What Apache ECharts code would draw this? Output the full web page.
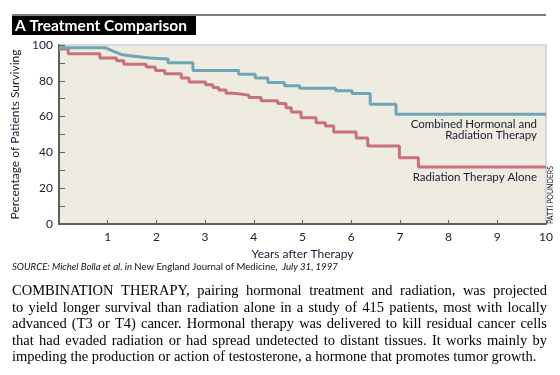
<!DOCTYPE html>
<html>
<head>
<meta charset="utf-8">
<script src="https://cdn.jsdelivr.net/npm/echarts@6/dist/echarts.min.js"></script>
<style>
html, body { margin: 0; padding: 0; background: #fff; }
#treatmentChart { width: 560px; height: 375px; }
</style>
</head>
<body>
<div id="treatmentChart"></div>
<script>
// survival curves (years after therapy, % surviving)
var comboTimes = [0, 0.96, 1.04, 1.12, 1.2, 1.28, 1.45, 1.65, 1.86, 2.24, 2.75, 3.69, 4.03, 4.29, 4.63, 4.94, 5.68, 6.02, 6.39, 6.92, 10]
var comboSurvival = [98.4, 97.4, 96.5, 95.6, 94.7, 94.0, 93.4, 92.8, 92.2, 90.1, 85.8, 83.6, 81.5, 79.1, 77.2, 75.9, 74.4, 72.9, 66.9, 61.3, 61.3]

var radTimes = [0, 0.19, 0.84, 1.18, 1.33, 1.79, 1.98, 2.17, 2.51, 2.67, 3.01, 3.16, 3.28, 3.43, 3.60, 3.90, 4.15, 4.49, 4.66, 4.77, 4.97, 5.28, 5.47, 5.64, 6.10, 6.34, 6.99, 7.38, 10]
var radSurvival = [97.8, 95.1, 92.7, 91.2, 89.3, 87.7, 85.8, 83.9, 81.5, 79.3, 77.8, 76.3, 74.8, 73.1, 72.0, 70.7, 68.8, 67.3, 65.0, 62.6, 59.4, 56.6, 54.8, 51.4, 48.0, 43.6, 37.0, 31.8, 31.8]

var seriesNames = ['Combined Hormonal and\nRadiation Therapy', 'Radiation Therapy Alone']

var title = 'A Treatment Comparison'
var xName = 'Years after Therapy'
var yName = 'Percentage of Patients Surviving'
var credit = 'PATTI POUNDERS'

var paraLines = [
  'COMBINATION THERAPY, pairing hormonal treatment and radiation, was projected',
  'to yield longer survival than radiation alone in a study of 415 patients, most with locally',
  'advanced (T3 or T4) cancer. Hormonal therapy was delivered to kill residual cancer cells',
  'that had evaded radiation or had spread undetected to distant tissues. It works mainly by',
  'impeding the production or action of testosterone, a hormone that promotes tumor growth.'
]

function pairs(xs, ys) {
  var out = []
  for (var i = 0; i < xs.length; i++) out.push([xs[i], ys[i]])
  return out
}

var BLUE = '#6fa5b6'
var RED = '#c9717b'
var INK = '#1a1a33'
var sans = 'Lato, "Open Sans", sans-serif'
var serifFont = '14.5px "Liberation Serif", "DejaVu Serif", serif'

// measure words so the caption can be justified like the printed page
var measureCtx = document.createElement('canvas').getContext('2d')
measureCtx.font = serifFont

function justifiedLine(line, x, y, width, last) {
  if (last) {
    return [{type: 'text', style: {text: line, x: x, y: y, textVerticalAlign: 'middle', font: serifFont, fill: '#000'}}]
  }
  var words = line.split(' ')
  var total = 0
  words.forEach(function (w) { total += measureCtx.measureText(w).width })
  var gap = (width - total) / (words.length - 1)
  var els = []
  var cx = x
  words.forEach(function (w) {
    els.push({type: 'text', style: {text: w, x: cx, y: y, textVerticalAlign: 'middle', font: serifFont, fill: '#000'}})
    cx += measureCtx.measureText(w).width + gap
  })
  return els
}

var chart = echarts.init(document.getElementById('treatmentChart'))

var graphics = [
  // rule + black title bar
  {type: 'rect', shape: {x: 12, y: 14, width: 534, height: 2}, style: {fill: '#7a7a7a'}},
  {type: 'rect', shape: {x: 12, y: 16, width: 184, height: 19}, style: {fill: '#000'}},
  {type: 'text', style: {text: title, x: 15, y: 26, textVerticalAlign: 'middle',
    font: 'bold 15.5px ' + sans, fill: '#fff'}},
  // curve labels
  {type: 'text', style: {text: seriesNames[0], x: 537, y: 130, textAlign: 'right', textVerticalAlign: 'middle',
    font: '11.5px ' + sans, fill: INK, lineHeight: 11}},
  {type: 'text', style: {text: seriesNames[1], x: 537, y: 177, textAlign: 'right', textVerticalAlign: 'middle',
    font: '11.5px ' + sans, fill: INK}},
  // artist credit
  {type: 'text', x: 551, y: 195, rotation: Math.PI / 2,
    style: {text: credit, x: 0, y: 0, textAlign: 'center', textVerticalAlign: 'middle',
      font: '7px ' + sans, fill: '#111'}},
  // source line
  {type: 'text', style: {
    text: '{i|SOURCE: Michel Bolla et al. in }{r|New England Journal of Medicine, }{i| July 31, 1997}',
    x: 12, y: 267, textVerticalAlign: 'middle',
    rich: {
      i: {font: 'italic 9.6px ' + sans, fill: '#111'},
      r: {font: '9.6px ' + sans, fill: '#111'}
    }}}
]
for (var k = 0; k < paraLines.length; k++) {
  graphics = graphics.concat(justifiedLine(paraLines[k], 12, 291.5 + k * 16.5, 535, k === paraLines.length - 1))
}

var option = {
  animation: false,
  backgroundColor: '#fff',
  grid: {
    left: 59, right: 14, top: 45, bottom: 151,
    show: true, backgroundColor: '#eeebe0', borderColor: '#d8d8d8', borderWidth: 2
  },
  xAxis: {
    type: 'value', min: 0, max: 10, interval: 1,
    name: xName, nameLocation: 'middle', nameGap: 24,
    nameTextStyle: {fontFamily: sans, fontSize: 12, color: INK},
    axisLine: {show: true, lineStyle: {color: '#5f5f5f', width: 2}},
    axisTick: {show: true, inside: true, length: 4, lineStyle: {color: '#5f5f5f'}},
    axisLabel: {fontFamily: sans, fontSize: 12, color: INK, margin: 7,
      formatter: function (v) { return v === 0 ? '' : v }},
    splitLine: {show: false}
  },
  yAxis: {
    type: 'value', min: 0, max: 100, interval: 10,
    name: yName, nameLocation: 'middle', nameGap: 38,
    nameTextStyle: {fontFamily: sans, fontSize: 12, color: INK},
    axisLine: {show: true, lineStyle: {color: '#5f5f5f', width: 2}},
    axisTick: {show: true, inside: true, length: 6, lineStyle: {color: '#5f5f5f'}},
    axisLabel: {fontFamily: sans, fontSize: 12, color: INK, margin: 6,
      formatter: function (v) { return v % 20 === 0 ? v : '' }},
    splitLine: {show: false}
  },
  series: [
    {
      name: seriesNames[0], type: 'line', step: 'end', showSymbol: false,
      lineStyle: {color: BLUE, width: 3}, z: 3,
      data: pairs(comboTimes, comboSurvival)
    },
    {
      name: seriesNames[1], type: 'line', step: 'end', showSymbol: false,
      lineStyle: {color: RED, width: 3}, z: 2,
      data: pairs(radTimes, radSurvival)
    }
  ],
  graphic: graphics
}

chart.setOption(option)
</script>
</body>
</html>
